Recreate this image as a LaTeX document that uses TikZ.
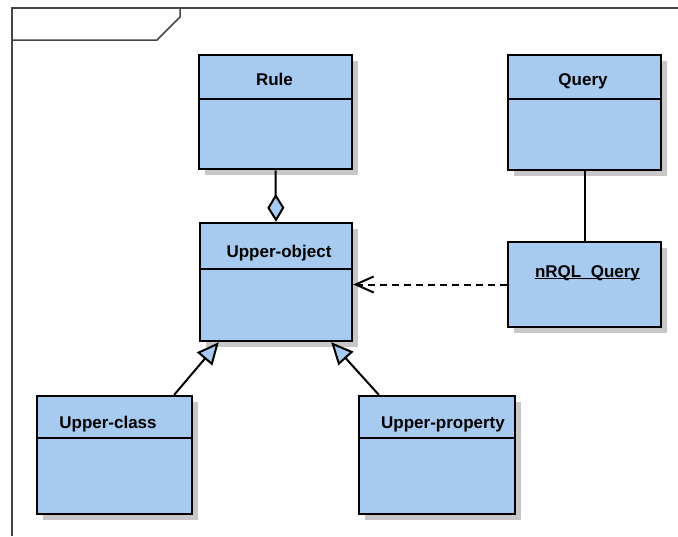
\documentclass[tikz,border=0pt]{standalone}
\usepackage{fontspec}
\setmainfont{Liberation Sans}
\usetikzlibrary{arrows.meta,shadows}
\definecolor{classblue}{RGB}{166,202,240}
\definecolor{framegray}{RGB}{70,70,70}

\begin{document}
\begin{tikzpicture}[x=1pt, y=-1pt,
    classbox/.style={draw=black, line width=2.4pt, fill=classblue, inner sep=0pt,
        drop shadow={shadow xshift=6pt, shadow yshift=-6pt, fill=black!22, opacity=1}},
    title/.style={font=\fontsize{17}{20}\selectfont\bfseries, anchor=base, inner sep=0pt},
    link/.style={line width=2pt}]
    \useasboundingbox (0,0) rectangle (678,536);

    % diagram frame
    \draw[framegray, line width=1.5pt] (12,536) -- (12,8) -- (678,8);
    \draw[framegray, line width=1.5pt] (12,40) -- (157,40) -- (180,17) -- (180,8);

    % Rule and Query
    \node[classbox, minimum width=153pt, minimum height=114.5pt] (rule) at (275.5,112) {};
    \draw[line width=2pt] ([yshift=-45pt]rule.north west) -- ([yshift=-45pt]rule.north east);
    \node[title] (ruletitle) at (274.5,85) {Rule};
    \node[classbox, minimum width=153pt, minimum height=115pt] (query) at (584.5,112.5) {};
    \draw[line width=2pt] ([yshift=-45pt]query.north west) -- ([yshift=-45pt]query.north east);
    \node[title] (querytitle) at (583,85) {Query};

    % Upper-object and nRQL_Query
    \node[classbox, minimum width=152pt, minimum height=118pt] (upobj) at (276,282) {};
    \draw[line width=2pt] ([yshift=-47.5pt]upobj.north west) -- ([yshift=-47.5pt]upobj.north east);
    \node[title] (upobjtitle) at (279,257) {Upper-object};
    \node[classbox, minimum width=153pt, minimum height=85pt] (nrql) at (584.5,284.5) {};
    \node[title] (nrqltitle) at (587.5,277) {\underline{\smash{nRQL\_Query}}};

    % Upper-class and Upper-property
    \node[classbox, minimum width=155pt, minimum height=118pt] (upclass) at (114.5,455) {};
    \draw[line width=2pt] ([yshift=-43pt]upclass.north west) -- ([yshift=-43pt]upclass.north east);
    \node[title] (upclasstitle) at (108,428) {Upper-class};
    \node[classbox, minimum width=156pt, minimum height=118pt] (upprop) at (437,455) {};
    \draw[line width=2pt] ([yshift=-43pt]upprop.north west) -- ([yshift=-43pt]upprop.north east);
    \node[title] (upproptitle) at (443,428) {Upper-property};

    % connectors
    \draw[link, -{Diamond[length=28pt, width=17pt, fill=classblue]}] (rule.south) -- (upobj.north);
    \draw[link] (query.south) -- (nrql.north);
    \draw[link, dash pattern=on 7pt off 5pt, -{Straight Barb[length=18pt, width=16pt]}] (nrql.west) -- (nrql.west -| upobj.east);
    \draw[link, -{Triangle[length=22pt, width=20pt, fill=classblue]}] ([xshift=-19pt]upclass.north east) -- ([xshift=20pt]upobj.south west);
    \draw[link, -{Triangle[length=22pt, width=20pt, fill=classblue]}] ([xshift=21pt]upprop.north west) -- ([xshift=-22pt]upobj.south east);
\end{tikzpicture}
\end{document}
